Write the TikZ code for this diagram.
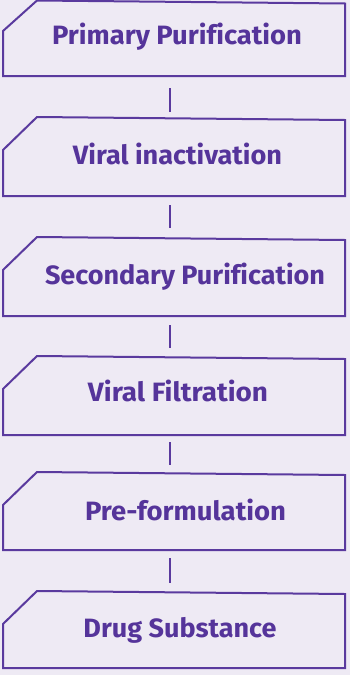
\documentclass[tikz,border=0pt]{standalone}
\usepackage{fontspec}
\setmainfont[Ligatures=NoCommon]{Fira Sans}
\usepackage{graphicx}
\definecolor{bgc}{HTML}{EEEAF4}
\definecolor{linec}{HTML}{5A3A9E}
\definecolor{textc}{HTML}{55349A}
\tikzset{
  boxline/.style={draw=linec, line width=2pt, line join=miter},
  conn/.style={draw=linec, line width=2.6pt},
  lbl/.style={text=textc, inner sep=0pt, anchor=base, font=\fontsize{26.5}{30}\selectfont\bfseries}
}
\newcommand{\flowbox}[2]{% #1 top-left y, #2 bottom y
  \draw[boxline] (3,#1+33) -- (37,#1) -- (345,#1+3) -- (345,#2) -- (3,#2) -- cycle;}
\begin{document}
\begin{tikzpicture}[x=1pt,y=-1pt]
\fill[bgc] (0,0) rectangle (350,675);
\useasboundingbox (0,0) rectangle (350,675);
% boxes
\draw[boxline] (3,31) -- (37,0.5) -- (345,3.5) -- (345,76) -- (3,76) -- cycle;
\flowbox{117}{196}
\flowbox{237}{316}
\flowbox{356}{435}
\flowbox{472}{550}
\flowbox{591}{668}
% labels
\node[lbl] (t1) at (177,44.3) {\resizebox{250pt}{\height}{Primary Purification}};
\node[lbl] (t2) at (177.5,164) {\resizebox{209pt}{\height}{Viral inactivation}};
\node[lbl] (t3) at (185,284.3) {\resizebox{280pt}{\height}{Secondary Purification}};
\node[lbl] (t4) at (178,401.7) {\resizebox{180pt}{\height}{Viral Filtration}};
\node[lbl] (t5) at (185.5,520) {\resizebox{201pt}{\height}{Pre-formulation}};
\node[lbl] (t6) at (180,637.3) {\resizebox{193pt}{\height}{Drug Substance}};
% connector ends
\coordinate (c1a) at (170,88);  \coordinate (c1b) at (170,112);
\coordinate (c2a) at (170,205); \coordinate (c2b) at (170,228);
\coordinate (c3a) at (170,325); \coordinate (c3b) at (170,348);
\coordinate (c4a) at (170,442); \coordinate (c4b) at (170,465);
\coordinate (c5a) at (170,558); \coordinate (c5b) at (170,583);
\draw[conn] (c1a) -- (c1b);
\draw[conn] (c2a) -- (c2b);
\draw[conn] (c3a) -- (c3b);
\draw[conn] (c4a) -- (c4b);
\draw[conn] (c5a) -- (c5b);
\end{tikzpicture}
\end{document}
